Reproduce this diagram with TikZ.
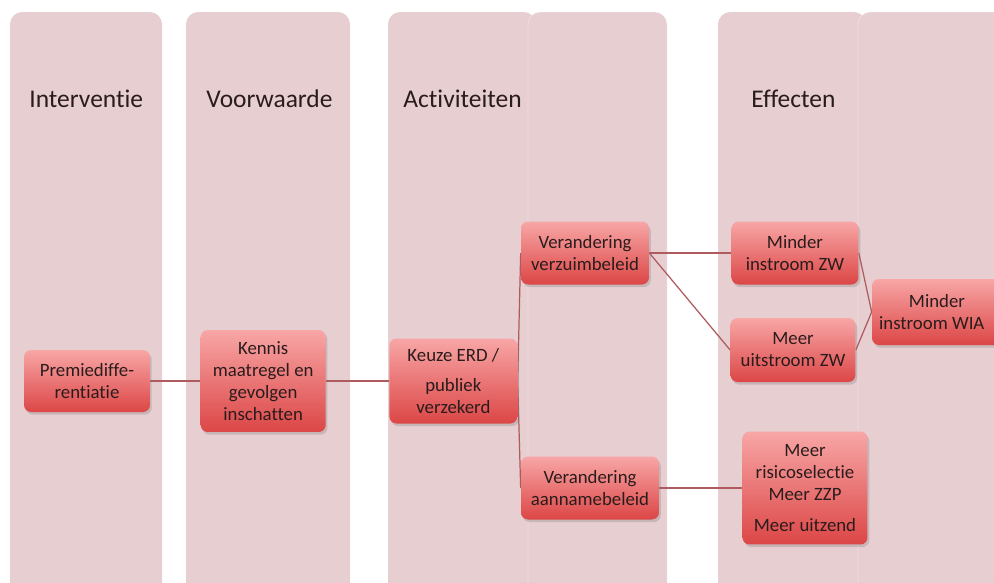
\documentclass[tikz,border=0pt]{standalone}
\usepackage{fontspec}
\setmainfont{Carlito}[Ligatures={NoCommon,NoContextual,NoRequired}, Contextuals=NoAlternate]
\usetikzlibrary{positioning, shadows, calc}

\definecolor{panelpink}{HTML}{E6CED1}
\definecolor{boxtop}{HTML}{F8A6A6}
\definecolor{boxbot}{HTML}{DC4646}
\definecolor{linkred}{HTML}{AE5A5E}
\definecolor{txtdark}{HTML}{2A1C1C}

\pgfdeclarelayer{panels}
\pgfdeclarelayer{links}
\pgfsetlayers{panels,links,main}

\begin{document}
\begin{tikzpicture}[
	x=0.02cm, y=-0.02cm,
	% --- Styles ---
	panel/.style={fill=panelpink, rounded corners=7pt},
	heading/.style={anchor=base west, inner sep=0pt, font=\fontsize{14.5}{17}\selectfont, text=txtdark},
	effectbox/.style={
		rectangle, rounded corners=4pt, top color=boxtop, bottom color=boxbot,
		drop shadow={opacity=0.3, shadow xshift=1pt, shadow yshift=-1.5pt},
		align=center, inner sep=2pt, text=txtdark,
		font=\fontsize{10.7}{12.5}\selectfont
	},
	link/.style={draw=linkred, line width=0.7pt}
	]
	
	\useasboundingbox (0,0) rectangle (994,582);
	\clip (0,0) rectangle (994,582);
	
	% --- Columns ---
	\begin{pgfonlayer}{panels}
		\fill[panel] (10,12) rectangle (162,620);
		\fill[panel] (186,12) rectangle (350,620);
		\fill[panel] (388,12) rectangle (536,620);
		\filldraw[panel, draw=white, draw opacity=0.35] (528,12) rectangle (667,620);
		\fill[panel] (718,12) rectangle (866,620);
		\filldraw[panel, draw=white, draw opacity=0.35] (858,12) rectangle (1010,620);
	\end{pgfonlayer}
	
	% --- Headings ---
	\node[heading] (h_interv) at (29,107) {Interventie};
	\node[heading] (h_voorw) at (206,107) {Voorwaarde};
	\node[heading] (h_activ) at (403,107) {Activiteiten};
	\node[heading] (h_effect) at (751,107) {Effecten};
	
	% --- Main chain ---
	\node[effectbox, minimum width=2.52cm, minimum height=1.24cm] (premie) at (87,381) {Premiediffe-\\rentiatie};
	\node[effectbox, minimum width=2.5cm, minimum height=2.04cm, right=1cm of premie] (kennis) {Kennis\\maatregel en\\gevolgen\\inschatten};
	\node[effectbox, minimum width=2.56cm, minimum height=1.7cm, right=1.26cm of kennis] (keuze) {Keuze ERD /\\[5pt]publiek\\verzekerd};
	
	% --- Activities ---
	\node[effectbox, minimum width=2.56cm, minimum height=1.26cm] (verzuim) at (585,253) {Verandering\\verzuimbeleid};
	\node[effectbox, minimum width=2.76cm, minimum height=1.26cm] (aanname) at (590,488) {Verandering\\aannamebeleid};
	
	% --- Effects ---
	\node[effectbox, minimum width=2.54cm, minimum height=1.26cm] (instroom_zw) at (795,253) {Minder\\instroom ZW};
	\node[effectbox, minimum width=2.5cm, minimum height=1.28cm] (uitstroom_zw) at (793,350) {Meer\\uitstroom ZW};
	\node[effectbox, minimum width=2.6cm, minimum height=1.32cm] (instroom_wia) at (937,312) {Minder\\instroom WIA\hspace*{6pt}};
	\node[effectbox, minimum width=2.5cm, minimum height=2.26cm] (risico) at (805,488) {Meer\\risicoselectie\\Meer ZZP\\[5pt]Meer uitzend};
	
	% --- Connectors ---
	\begin{pgfonlayer}{links}
		\draw[link] (premie) -- (kennis);
		\draw[link] (kennis) -- (keuze);
		\draw[link] (keuze.east) -- (verzuim.west);
		\draw[link] (keuze.east) -- (aanname.west);
		\draw[link] (verzuim.east) -- (instroom_zw.west);
		\draw[link] (verzuim.east) -- (uitstroom_zw.west);
		\draw[link] (instroom_zw.east) -- (instroom_wia.west);
		\draw[link] (uitstroom_zw.east) -- (instroom_wia.west);
		\draw[link] (aanname.east) -- (risico.west);
	\end{pgfonlayer}
	
\end{tikzpicture}
\end{document}
